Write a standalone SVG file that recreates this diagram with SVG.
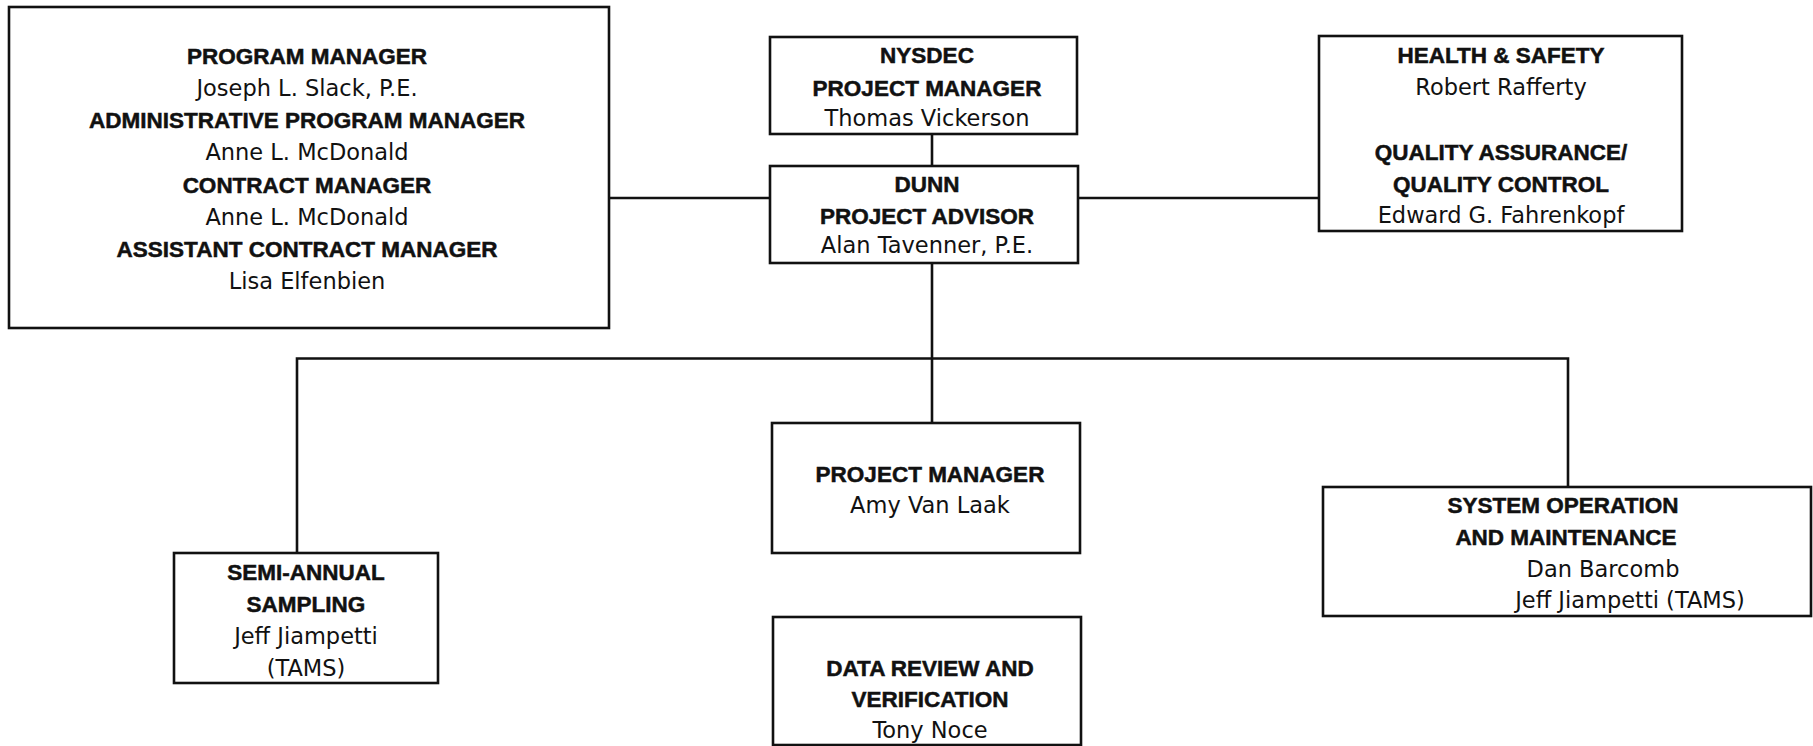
<svg xmlns="http://www.w3.org/2000/svg" width="1813" height="746" viewBox="0 0 1813 746">
<style>
.box{fill:#ffffff;stroke:#111111;stroke-width:2.6}
.ln{fill:none;stroke:#111111;stroke-width:2.6}
.b{font-family:"Liberation Sans",Arial,sans-serif;font-weight:bold;font-size:22.5px;fill:#111111;stroke:#111111;stroke-width:0.5;text-anchor:middle}
.r{font-family:"DejaVu Sans","Liberation Sans",sans-serif;font-size:22.5px;fill:#111111;text-anchor:middle}
</style>
<rect width="1813" height="746" fill="#ffffff"/>
<g id="connectors">
<path class="ln" d="M932,134 V166"/>
<path class="ln" d="M932,263 V423"/>
<path class="ln" d="M609,198 H770"/>
<path class="ln" d="M1078,198 H1319"/>
<path class="ln" d="M297,553 V358.5 H1568 V487"/>
</g>
<g id="program">
<rect class="box" x="9" y="7" width="600" height="321"/>
<text class="b" x="307" y="64">PROGRAM MANAGER</text>
<text class="r" x="307" y="96">Joseph L. Slack, P.E.</text>
<text class="b" x="307" y="128">ADMINISTRATIVE PROGRAM MANAGER</text>
<text class="r" x="307" y="160">Anne L. McDonald</text>
<text class="b" x="307" y="193">CONTRACT MANAGER</text>
<text class="r" x="307" y="225">Anne L. McDonald</text>
<text class="b" x="307" y="257">ASSISTANT CONTRACT MANAGER</text>
<text class="r" x="307" y="289">Lisa Elfenbien</text>
</g>
<g id="nysdec">
<rect class="box" x="770" y="37" width="307" height="97"/>
<text class="b" x="927" y="63">NYSDEC</text>
<text class="b" x="927" y="96">PROJECT MANAGER</text>
<text class="r" x="927" y="126">Thomas Vickerson</text>
</g>
<g id="dunn">
<rect class="box" x="770" y="166" width="308" height="97"/>
<text class="b" x="927" y="192">DUNN</text>
<text class="b" x="927" y="224">PROJECT ADVISOR</text>
<text class="r" x="927" y="253">Alan Tavenner, P.E.</text>
</g>
<g id="health">
<rect class="box" x="1319" y="36" width="363" height="195"/>
<text class="b" x="1501" y="63">HEALTH &amp; SAFETY</text>
<text class="r" x="1501" y="95">Robert Rafferty</text>
<text class="b" x="1501" y="160">QUALITY ASSURANCE/</text>
<text class="b" x="1501" y="192">QUALITY CONTROL</text>
<text class="r" x="1501" y="223">Edward G. Fahrenkopf</text>
</g>
<g id="pm">
<rect class="box" x="772" y="423" width="308" height="130"/>
<text class="b" x="930" y="482">PROJECT MANAGER</text>
<text class="r" x="930" y="513">Amy Van Laak</text>
</g>
<g id="data">
<rect class="box" x="773" y="617" width="308" height="128"/>
<text class="b" x="930" y="676">DATA REVIEW AND</text>
<text class="b" x="930" y="707">VERIFICATION</text>
<text class="r" x="930" y="738">Tony Noce</text>
</g>
<g id="semi">
<rect class="box" x="174" y="553" width="264" height="130"/>
<text class="b" x="306" y="580">SEMI-ANNUAL</text>
<text class="b" x="306" y="612">SAMPLING</text>
<text class="r" x="306" y="644">Jeff Jiampetti</text>
<text class="r" x="306" y="676">(TAMS)</text>
</g>
<g id="system">
<rect class="box" x="1323" y="487" width="488" height="129"/>
<text class="b" x="1563" y="513">SYSTEM OPERATION</text>
<text class="b" x="1566" y="545">AND MAINTENANCE</text>
<text class="r" x="1603" y="577">Dan Barcomb</text>
<text class="r" x="1630" y="608">Jeff Jiampetti (TAMS)</text>
</g>
</svg>
